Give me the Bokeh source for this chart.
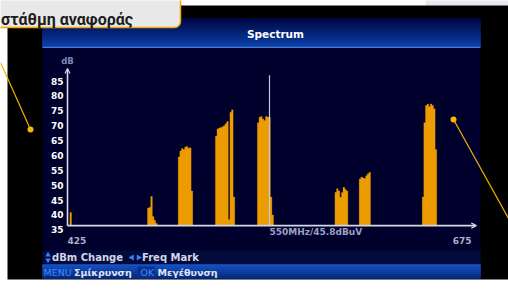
from bokeh.plotting import figure
from bokeh.models import Range1d, LinearAxis, FixedTicker, Arrow, OpenHead, BoxAnnotation, Label
from bokeh.core.properties import value
from bokeh.embed import file_html
from bokeh.resources import INLINE
import math

# ---------------- data ----------------
spike_freq = [427]
spike_level = [40.8]

ch1_freq = [475, 476, 477, 478, 479, 480]
ch1_level = [42.3, 42.6, 46.2, 39.5, 38.2, 37.2]

ch2_freq = [494, 495, 496, 497, 498, 499, 500, 501, 502]
ch2_level = [59.5, 61.5, 62.3, 62.0, 62.8, 63.0, 62.4, 62.6, 48.0]

ch3_freq = [517, 518, 519, 520, 521, 522, 523, 524, 525]
ch3_level = [66.5, 68.9, 69.2, 69.4, 69.6, 70.0, 70.6, 71.4, 38.5]

ch4_freq = [526, 527, 528]
ch4_level = [74.5, 75.3, 46.0]

ch5_freq = [543, 544, 545, 546, 547, 548, 549, 550, 551, 552]
ch5_level = [71.0, 72.8, 73.1, 72.2, 71.7, 73.1, 72.9, 72.8, 46.0, 40.0]

ch6_freq = [591, 592, 593, 594, 595, 596, 597, 598]
ch6_level = [47.6, 48.8, 48.0, 45.9, 47.5, 49.3, 48.6, 48.0]

ch7_freq = [606, 607, 608, 609, 610, 611, 612]
ch7_level = [52.1, 52.7, 52.4, 52.2, 53.2, 53.8, 54.3]

ch8_freq = [645, 646, 647, 648, 649, 650, 651, 652, 653]
ch8_level = [46.0, 71.0, 76.8, 77.3, 76.4, 77.3, 76.8, 75.7, 62.0]

floor_db = 36.4          # level where the frequency axis sits
marker_freq = 550
marker_level = 45.8
marker_top = 86.9
y_ticks = [35, 40, 45, 50, 55, 60, 65, 70, 75, 80, 85]
freq_start, freq_end = 425, 675
x_tick_labels = ["425", "675"]
y_axis_top = 89.2
x_axis_end = 678
bin_mhz = 1.0

channels = [(spike_freq, spike_level), (ch1_freq, ch1_level), (ch2_freq, ch2_level),
            (ch3_freq, ch3_level), (ch4_freq, ch4_level), (ch5_freq, ch5_level),
            (ch6_freq, ch6_level), (ch7_freq, ch7_level), (ch8_freq, ch8_level)]

# ---------------- layout ----------------
W, H = 508, 290
PX_PER_MHZ = 1.616
PX_PER_DB = 2.976
x0 = freq_start - 67 / PX_PER_MHZ
y0 = 35 - (H - 229.3) / PX_PER_DB

ORANGE = "#ec9b00"
NAVY = "#00002c"
AXC = "#d4d8e6"
FONT = value("DejaVu Sans")

p = figure(width=W, height=H,
           x_range=Range1d(x0, x0 + W / PX_PER_MHZ),
           y_range=Range1d(y0, y0 + H / PX_PER_DB),
           x_axis_type=None, y_axis_type=None,
           toolbar_location=None, output_backend="svg", min_border=0)
p.extra_x_ranges = {"px": Range1d(0, W)}
p.extra_y_ranges = {"py": Range1d(H, 0)}
p.outline_line_color = None
p.background_fill_color = "white"
p.border_fill_color = "white"

PX = dict(x_range_name="px", y_range_name="py")


def mix(c1, c2, t):
    a = [int(c1[i:i + 2], 16) for i in (1, 3, 5)]
    b = [int(c2[i:i + 2], 16) for i in (1, 3, 5)]
    return "#%02x%02x%02x" % tuple(round(a[k] + (b[k] - a[k]) * t) for k in range(3))


def gradient(xa, xb, ya, yb, ca, cb, n):
    h = (yb - ya) / n
    tops = [ya + i * h for i in range(n)]
    bots = [ya + (i + 1) * h for i in range(n)]
    cols = [mix(ca, cb, i / (n - 1)) for i in range(n)]
    p.quad(left=xa, right=xb, top=tops, bottom=bots, fill_color=cols,
           line_color=cols, line_width=0.6, **PX)


# top-right decoration of the page
p.quad(left=425, right=520, top=-2, bottom=5, fill_color="#e6e9f1", line_color=None, **PX)
# screen frame and panel
p.quad(left=7, right=520, top=5, bottom=279, fill_color="black", line_color=None, **PX)
p.quad(left=42, right=480, top=18, bottom=278, fill_color=NAVY, line_color=None, **PX)
# title bar
gradient(42, 480, 18, 46.5, "#000848", "#0c40a6", 14)
p.segment(x0=42, y0=46.8, x1=480, y1=46.8, line_color="#4a7ad4", line_width=1.2, **PX)
# footer rows
p.quad(left=42, right=480, top=250, bottom=264, fill_color="#030a3c", line_color=None, **PX)
gradient(42, 480, 264, 278, "#1552c4", "#062c86", 7)
p.quad(left=137, right=154, top=266, bottom=277, fill_color="#0a2f8c", line_color=None, **PX)

# spectrum: each channel as one stepped area (one bin per sample)
xs_all, ys_all = [], []
for fr, lv in channels:
    xs = [fr[0] - bin_mhz / 2]
    ys = [floor_db]
    for f, l in zip(fr, lv):
        xs += [f - bin_mhz / 2, f + bin_mhz / 2]
        ys += [l, l]
    xs.append(fr[-1] + bin_mhz / 2)
    ys.append(floor_db)
    xs_all.append(xs)
    ys_all.append(ys)
p.patches(xs=xs_all, ys=ys_all, fill_color=ORANGE, line_color=ORANGE, line_width=0.3)

# marker
p.segment(x0=marker_freq, y0=floor_db, x1=marker_freq, y1=marker_top,
          line_color="#c4c8dc", line_width=1.2)
p.text(x=[marker_freq], y=[floor_db], text=[f"{marker_freq}MHz/{marker_level}dBuV"],
       text_baseline="top", text_align="left", y_offset=1,
       text_font=FONT, text_font_style="bold", text_font_size="9px", text_color="#9aa2c4")

# frequency range labels (start left-aligned, end right-aligned, as on the screen)
p.text(x=[freq_start, freq_end], y=[floor_db, floor_db], text=x_tick_labels,
       text_align=["left", "right"], text_baseline="top", y_offset=11,
       text_font=FONT, text_font_style="bold", text_font_size="9px", text_color="#a8b0ca")

# level axis
yax = LinearAxis(fixed_location=freq_start, ticker=FixedTicker(ticks=y_ticks),
                 axis_line_color=None, major_tick_line_color=None, minor_tick_line_color=None,
                 major_tick_in=0, major_tick_out=0, major_label_standoff=4,
                 major_label_text_color="white", major_label_text_font="DejaVu Sans",
                 major_label_text_font_style="bold", major_label_text_font_size="9px")
p.add_layout(yax, "left")

p.add_layout(Arrow(x_start=freq_start, y_start=floor_db, x_end=freq_start, y_end=y_axis_top,
                   line_color=AXC, line_width=1.6,
                   end=OpenHead(size=5, line_color=AXC, line_width=1.2)))
p.add_layout(Arrow(x_start=freq_start, y_start=floor_db, x_end=x_axis_end, y_end=floor_db,
                   line_color=AXC, line_width=1.6,
                   end=OpenHead(size=5, line_color=AXC, line_width=1.2)))

# texts on the screen
p.text(x=[67], y=[60], text=["dB"], text_align="center", text_baseline="middle",
       text_font=FONT, text_font_style="bold", text_font_size="8.5px", text_color="#7f88b8", **PX)
p.text(x=[275], y=[33], text=["Spectrum"], text_align="center", text_baseline="middle",
       text_font=FONT, text_font_style="bold", text_font_size="10.5px", text_color="white", **PX)

p.scatter(x=[47.5, 47.5], y=[254.5, 259.5], marker=["triangle", "inverted_triangle"], size=5.5,
          fill_color="#3c80f0", line_color=None, **PX)
p.scatter(x=[131.5, 138], y=[257, 257], marker="triangle", angle=[math.pi / 2, -math.pi / 2],
          size=6, fill_color="#3c80f0", line_color=None, **PX)
p.text(x=[51.5, 141.5], y=[257, 257], text=["dBm Change", "Freq Mark"], text_baseline="middle",
       text_font=FONT, text_font_style="bold", text_font_size="10px", text_color="#d2d6e6", **PX)
p.text(x=[43, 140], y=[272, 272], text=["MENU", "OK"], text_baseline="middle",
       text_font=FONT, text_font_size="9.5px", text_color="#3d8cff", **PX)
p.text(x=[73.5, 157], y=[272, 272], text=["Σμίκρυνση", "Μεγέθυνση"], text_baseline="middle",
       text_font=FONT, text_font_style="bold", text_font_size="9.5px", text_color="#e0e4f0", **PX)

# callouts
p.line(x=[0, 30], y=[62, 129], line_color="#f2b200", line_width=1.2, **PX)
p.line(x=[453, 512], y=[119, 225], line_color="#f2b200", line_width=1.2, **PX)
p.scatter(x=[30, 453], y=[129, 119], size=6, fill_color="#f6b800", line_color=None, **PX)

p.add_layout(BoxAnnotation(left=-10, right=180, top=-10, bottom=27, border_radius=6,
                           fill_color="#e8e8e8", fill_alpha=1, line_color="#f0a800",
                           line_width=1.5, line_alpha=1, level="overlay", **PX))
p.add_layout(Label(x=0.5, y=19, text="στάθμη αναφοράς", text_baseline="alphabetic",
                   text_font="Roboto", text_font_style="bold", text_font_size="16px",
                   text_color="#1c1c1c", level="overlay", **PX))

open("out.html", "w").write(file_html(p, INLINE))
